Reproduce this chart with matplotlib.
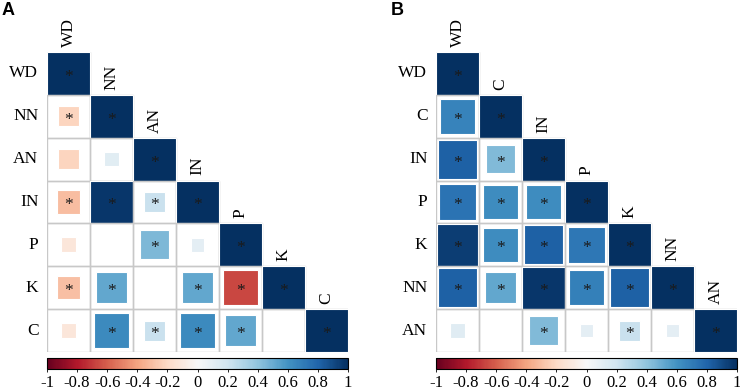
import numpy as np
import matplotlib.pyplot as plt
from matplotlib.patches import Rectangle
import matplotlib as mpl

# variable order for each panel
labels_a = ["WD", "NN", "AN", "IN", "P", "K", "C"]
labels_b = ["WD", "C", "IN", "P", "K", "NN", "AN"]

# lower triangle correlations (row by row, below the diagonal)
low_a = [
    [-0.22],
    [-0.22, 0.11],
    [-0.31, 0.97, 0.22],
    [-0.12, 0.00, 0.45, 0.10],
    [-0.30, 0.52, 0.00, 0.52, -0.67],
    [-0.12, 0.64, 0.22, 0.64, 0.52, 0.00],
]
sig_a = [
    [1],
    [0, 0],
    [1, 1, 1],
    [0, 0, 1, 0],
    [1, 1, 0, 1, 1],
    [0, 1, 1, 1, 1, 0],
]

low_b = [
    [0.67],
    [0.82, 0.44],
    [0.74, 0.63, 0.63],
    [0.95, 0.63, 0.82, 0.72],
    [0.82, 0.52, 0.97, 0.68, 0.82],
    [0.12, 0.00, 0.44, 0.10, 0.22, 0.10],
]
sig_b = [
    [1],
    [1, 1],
    [1, 1, 1],
    [1, 1, 1, 1],
    [1, 1, 1, 1, 1],
    [0, 0, 1, 0, 1, 0],
]

ticks = [-1, -0.8, -0.6, -0.4, -0.2, 0, 0.2, 0.4, 0.6, 0.8, 1]
tick_labels = ["-1", "-0.8", "-0.6", "-0.4", "-0.2", "0", "0.2", "0.4", "0.6", "0.8", "1"]

cmap = plt.get_cmap("RdBu")
norm = mpl.colors.Normalize(-1, 1)
serif = "Liberation Serif"

W, H = 740, 391
fig = plt.figure(figsize=(7.4, 3.91), dpi=100)


def panel(x0, labels, low, sig, letter):
    n = len(labels)
    # grid area: 301 x 300 px starting at y=52 from top
    ax = fig.add_axes([x0 / W, (H - 352) / H, 301 / W, 300 / H])
    ax.set_xlim(0, n)
    ax.set_ylim(n, 0)
    ax.axis("off")
    for i in range(n):
        for j in range(i + 1):
            ax.add_patch(Rectangle((j, i), 1, 1, fill=False, ec="#c8c8c8", lw=1.0))
            if i == j:
                r, s = 1.0, 1
            else:
                r, s = low[i - 1][j], sig[i - 1][j]
            side = np.sqrt(abs(r))
            if i == j:
                side = 1.0
            if side > 0:
                off = (1 - side) / 2
                ax.add_patch(Rectangle((j + off, i + off), side, side,
                                       fc=cmap(norm(r)), ec="white", lw=0.8))
            if s:
                ax.text(j + 0.5, i + 0.58, "*", ha="center", va="center",
                        fontsize=12.5, family=serif, color="#1a1a1a")
        ax.text(-0.2, i + 0.5, labels[i], ha="right", va="center",
                fontsize=12.5, family=serif, clip_on=False)
        ax.text(i + 0.5, i - 0.12, labels[i], ha="center", va="bottom",
                rotation=90, fontsize=12.5, family=serif, clip_on=False)

    cax = fig.add_axes([x0 / W, (H - 369) / H, 301 / W, 11 / H])
    cb = mpl.colorbar.ColorbarBase(cax, cmap=cmap, norm=norm, orientation="horizontal")
    cb.set_ticks(ticks)
    cb.set_ticklabels(tick_labels)
    cax.tick_params(length=2.5, width=0.6, labelsize=12, pad=1.5)
    for t in cax.get_xticklabels():
        t.set_family(serif)
    cb.outline.set_linewidth(0.8)

    fig.text((x0 - 45) / W, 1 - 2 / H, letter, ha="left", va="top",
             fontsize=13, fontweight="bold", family="Liberation Sans")


panel(47, labels_a, low_a, sig_a, "A")
panel(436, labels_b, low_b, sig_b, "B")

fig.savefig("out.png", dpi=100)
